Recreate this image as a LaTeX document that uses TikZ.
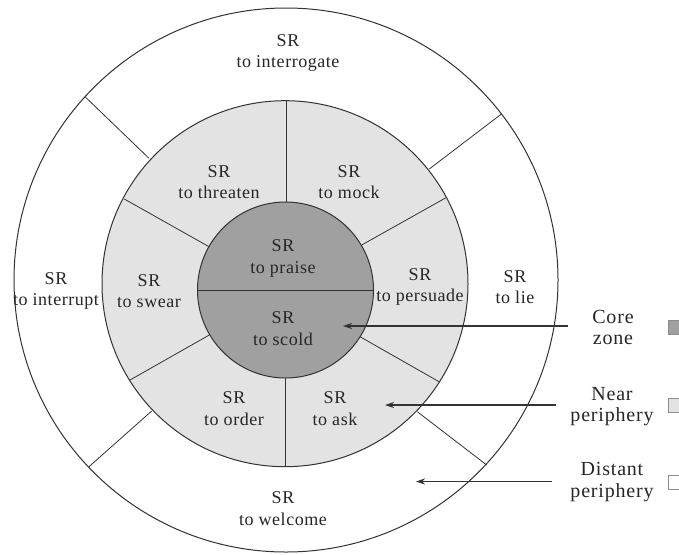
\documentclass[tikz,border=0pt]{standalone}
\usepackage{fontspec}
\setmainfont{Liberation Serif}
\newfontfamily\lblfont[LetterSpace=3]{Liberation Serif}
\newfontfamily\legfont[LetterSpace=4]{Liberation Serif}
\usetikzlibrary{arrows.meta}
\definecolor{coregray}{HTML}{A0A0A0}
\definecolor{neargray}{HTML}{E3E3E3}
\definecolor{linegray}{HTML}{333333}
\tikzset{
  ring/.style={draw=linegray, line width=1pt},
  divider/.style={draw=linegray, line width=0.8pt},
  lbl/.style={align=center, inner sep=0pt, font=\lblfont\fontsize{18}{21.5}\selectfont, text=black!85},
  leg/.style={align=center, inner sep=0pt, font=\legfont\fontsize{20}{21.5}\selectfont, text=black!85},
  legbox/.style={draw=black!45, line width=0.6pt},
  pointer/.style={draw=black!80, line width=1.1pt, -{Stealth[length=9pt,width=6pt]}}
}
\begin{document}
\begin{tikzpicture}[x=1pt,y=-1pt]
\useasboundingbox (0,0) rectangle (679,554);
\clip (0,0) rectangle (679,554);
% circles
\coordinate (oc) at (286,280);
\coordinate (mc) at (285,283.7);
\coordinate (ic) at (285.5,290);
\filldraw[ring, fill=white] (oc) circle (272);
\filldraw[ring, fill=neargray] (mc) circle (183);
% outer ring dividers
\draw[divider] (85,96.7) -- (149,158.3);
\draw[divider] (501,114.3) -- (429.3,169);
\draw[divider] (88.3,467.3) -- (151.7,411);
\draw[divider] (486.7,465) -- (417.3,411.7);
% middle ring dividers
\draw[divider] (286,100.7) -- (286,205);
\draw[divider] (285,375) -- (285,466.7);
\draw[divider] (124.3,199) -- (209,246.7);
\draw[divider] (446,197.7) -- (361.7,245);
\draw[divider] (130,380) -- (209.3,335);
\draw[divider] (439,381.7) -- (360,336.7);
% core
\filldraw[ring, fill=coregray] (ic) circle (88);
\draw[divider] (197.5,290.5) -- (373.5,290.5);
% labels
\node[lbl] (interrogate) at (288,53) {SR\\to interrogate};
\node[lbl] (threaten) at (219,182) {SR\\to threaten};
\node[lbl] (mock) at (349,182) {SR\\to mock};
\node[lbl] (praise) at (283,258.5) {SR\\to praise};
\node[lbl] (scold) at (283,328.5) {SR\\to scold};
\node[lbl] (swear) at (149,291) {SR\\to swear};
\node[lbl] (interrupt) at (56,291) {SR\\to interrupt};
\node[lbl] (persuade) at (420,287) {SR\\to persuade};
\node[lbl] (lie) at (515,287) {SR\\to lie};
\node[lbl] (order) at (234,408.5) {SR\\to order};
\node[lbl] (ask) at (335,408.5) {SR\\to ask};
\node[lbl] (welcome) at (283,508.5) {SR\\to welcome};
% legend
\node[leg] (corelbl) at (613,327.5) {Core\\zone};
\node[leg] (nearlbl) at (612,406.5) {Near\\periphery};
\node[leg] (distlbl) at (612,482) {Distant\\periphery};
\draw[legbox, fill=coregray] (668.5,320) rectangle (684,334);
\draw[legbox, fill=neargray] (668.5,398.5) rectangle (684,412.5);
\draw[legbox, fill=white] (668.5,475) rectangle (684,489);
% pointers
\coordinate (corestart) at (568,326);
\coordinate (coretip) at (343,326);
\coordinate (nearstart) at (556,405);
\coordinate (neartip) at (385,405);
\coordinate (diststart) at (552,481.5);
\coordinate (disttip) at (416,481.5);
\draw[pointer] (corestart) -- (coretip);
\draw[pointer] (nearstart) -- (neartip);
\draw[pointer] (diststart) -- (disttip);
\end{tikzpicture}
\end{document}
